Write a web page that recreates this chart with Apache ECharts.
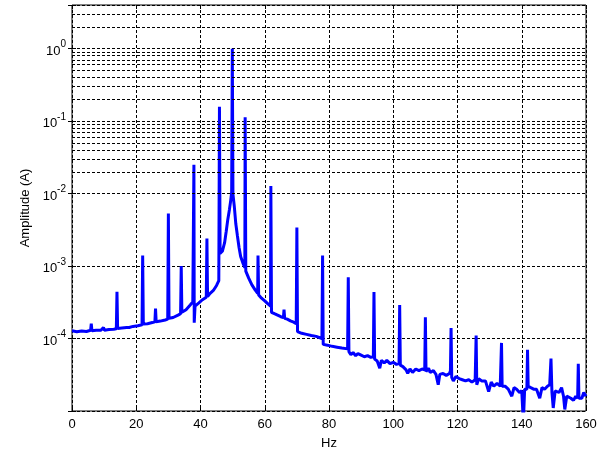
<!DOCTYPE html>
<html lang="en">
<head>
    <meta charset="UTF-8">
    <title>Amplitude spectrum</title>
    <script src="https://cdn.jsdelivr.net/npm/echarts@6/dist/echarts.min.js"></script>
    <style>
        html, body { margin: 0; padding: 0; background: #fff; }
        #main { width: 606px; height: 455px; }
    </style>
</head>
<body>
<div id="main"></div>
<script>
    // frequency (Hz) and amplitude (A)
    var hz = [
        0, 1.5, 3, 4.5, 5.8, 6.0, 6.2, 7.5, 9.0, 9.8, 10.1, 11.5, 13.0, 13.8, 14.0, 14.2,
        15.5, 17.0, 17.5, 17.8, 19.0, 20.5, 21.8, 22.0, 22.2, 23.5, 25.0, 25.8, 26.0, 26.2,
        27.5, 29.0, 29.8, 30.0, 30.2, 31.5, 33.0, 33.8, 34.0, 34.2, 35.5, 36.8, 37.6, 37.8,
        37.95, 38.05, 38.3, 39.5, 40.5, 41.8, 42.0, 42.2, 43.0, 44.0, 45.0, 45.7, 45.9, 46.1,
        46.8, 47.5, 48.0, 48.5, 49.0, 49.4, 49.7, 49.9, 50.1, 50.5, 51.0, 51.5, 52.0, 52.5,
        53.2, 53.8, 53.9, 54.1, 55.0, 56.0, 57.0, 57.8, 57.9, 58.1, 59.0, 60.0, 61.0, 61.8,
        61.9, 62.1, 63.0, 64.0, 65.0, 65.8, 66.0, 66.2, 67.0, 68.0, 69.0, 69.8, 70.0, 70.2,
        71.5, 73.0, 74.5, 76.0, 77.8, 78.0, 78.2, 79.5, 81.0, 82.5, 84.0, 85.8, 86.0, 86.2,
        86.8, 87.5, 88.3, 89.0, 90.0, 91.0, 92.0, 93.0, 93.8, 94.0, 94.2, 95.0, 95.8, 96.3,
        97.2, 98.0, 99.0, 100.0, 101.0, 101.8, 102.0, 102.2, 103.0, 104.0, 104.5, 105.2, 106.0,
        107.0, 108.0, 109.0, 109.8, 110.0, 110.2, 111.0, 111.5, 112.5, 113.3, 114.0, 114.5,
        115.5, 116.5, 117.5, 117.8, 118.0, 118.2, 118.7, 119.5, 120.5, 121.5, 122.5, 123.5,
        124.5, 125.5, 125.8, 126.0, 126.6, 127.5, 128.7, 129.7, 130.5, 131.3, 132.3, 133.3,
        133.7, 133.9, 134.8, 135.8, 136.9, 137.6, 138.4, 139.3, 140.0, 140.5, 140.9, 141.6,
        141.8, 142.0, 142.8, 143.7, 144.6, 145.6, 146.3, 147.1, 148.0, 148.7, 149.1, 149.4,
        149.8, 150.4, 150.8, 151.6, 152.4, 153.0, 153.4, 154.0, 154.5, 155.3, 156.1, 156.8,
        157.4, 157.6, 157.8, 158.7, 159.3, 159.7, 160.0
    ];
    var amp = [
        1.28e-4, 1.24e-4, 1.27e-4, 1.25e-4, 1.3e-4, 1.6e-4, 1.28e-4, 1.3e-4, 1.3e-4, 1.42e-4, 1.3e-4, 1.33e-4, 1.34e-4, 1.36e-4, 4.4e-4, 1.38e-4,
        1.4e-4, 1.42e-4, 1.5e-4, 1.42e-4, 1.47e-4, 1.5e-4, 1.55e-4, 1.4e-3, 1.58e-4, 1.6e-4, 1.66e-4, 1.7e-4, 2.6e-4, 1.7e-4,
        1.74e-4, 1.8e-4, 1.85e-4, 5.3e-3, 1.9e-4, 1.95e-4, 2.1e-4, 2.2e-4, 1.0e-3, 2.3e-4, 2.5e-4, 2.9e-4, 3.2e-4, 3.2e-4,
        0.025, 1.65e-4, 2.8e-4, 3.1e-4, 3.4e-4, 3.7e-4, 2.4e-3, 3.8e-4, 4.2e-4, 4.6e-4, 5.4e-4, 6.3e-4, 0.158, 1.5e-3,
        1.6e-3, 2.1e-3, 3.0e-3, 4.4e-3, 6.0e-3, 8.0e-3, 0.0105, 1.0, 0.0098, 6.8e-3, 3.8e-3, 2.6e-3, 1.8e-3, 1.35e-3,
        1.1e-3, 9.5e-4, 0.113, 8.5e-4, 6.8e-4, 5.5e-4, 4.7e-4, 4.2e-4, 1.4e-3, 4.0e-4, 3.6e-4, 3.3e-4, 3.0e-4, 2.8e-4,
        0.0127, 2.3e-4, 2.2e-4, 2.1e-4, 2.0e-4, 1.95e-4, 2.5e-4, 1.9e-4, 1.85e-4, 1.75e-4, 1.68e-4, 1.6e-4, 3.4e-3, 1.25e-4,
        1.18e-4, 1.14e-4, 1.1e-4, 1.07e-4, 1.0e-4, 1.4e-3, 8.3e-5, 8.1e-5, 7.8e-5, 7.6e-5, 7.4e-5, 7.2e-5, 7.0e-4, 6.6e-5,
        6.0e-5, 6.4e-5, 5.8e-5, 6.2e-5, 5.9e-5, 5.6e-5, 5.8e-5, 5.5e-5, 5.6e-5, 4.4e-4, 5.2e-5, 4.9e-5, 3.9e-5, 5.0e-5,
        4.6e-5, 5.0e-5, 4.5e-5, 4.7e-5, 4.4e-5, 4.5e-5, 2.9e-4, 4.3e-5, 4.1e-5, 3.7e-5, 3.3e-5, 3.8e-5, 3.4e-5,
        3.8e-5, 3.6e-5, 3.8e-5, 3.7e-5, 1.97e-4, 3.5e-5, 3.9e-5, 3.4e-5, 3.6e-5, 3.2e-5, 2.3e-5, 3.2e-5,
        3.3e-5, 3.1e-5, 3.3e-5, 3.6e-5, 1.4e-4, 2.9e-5, 2.6e-5, 3.0e-5, 2.8e-5, 2.7e-5, 2.6e-5, 2.7e-5,
        2.5e-5, 2.7e-5, 1.1e-4, 2.3e-5, 2.8e-5, 2.6e-5, 2.6e-5, 1.85e-5, 2.5e-5, 2.2e-5, 2.4e-5, 2.2e-5,
        8.7e-5, 2.2e-5, 2.2e-5, 2.0e-5, 1.6e-5, 2.1e-5, 2.0e-5, 1.8e-5, 1.9e-5, 7e-6, 2.0e-5, 2.0e-5,
        7.0e-5, 2.2e-5, 2.1e-5, 2.0e-5, 2.0e-5, 1.5e-5, 2.1e-5, 2.0e-5, 2.2e-5, 2.3e-5, 5.3e-5, 1.8e-5,
        1.1e-5, 1.9e-5, 2.0e-5, 1.8e-5, 2.1e-5, 1.6e-5, 1.05e-5, 1.6e-5, 1.7e-5, 1.5e-5, 1.4e-5, 1.6e-5,
        1.5e-5, 4.5e-5, 1.5e-5, 1.5e-5, 1.8e-5, 1.7e-5, 1.6e-5
    ];

    var xTicks = [0, 20, 40, 60, 80, 100, 120, 140, 160];
    var decades = [-5, -4, -3, -2, -1, 0];
    var minorMantissa = [2, 3, 4, 5, 6, 7, 8, 9];
    var yMin = 1e-5, yMax = 4;

    var spectrum = hz.map(function (f, i) { return [f, amp[i]]; });

    // MATLAB style minor grid (2..9 x 10^n)
    var minorLines = [];
    decades.forEach(function (d) {
        minorMantissa.forEach(function (m) {
            var v = m * Math.pow(10, d);
            if (v < yMax) minorLines.push({yAxis: v});
        });
    });

    var gridDash = {color: '#000', width: 1, type: [3, 2]};

    function powLabel(v) {
        var e = Math.log(v) / Math.LN10;
        var r = Math.round(e);
        if (Math.abs(e - r) > 1e-6 || r < -4) return '';
        return '{b|10}{e|' + r + '}';
    }

    var myChart = echarts.init(document.getElementById('main'));
    var option = {
        animation: false,
        textStyle: {fontFamily: 'Liberation Sans, Arial, sans-serif'},
        grid: {left: 72, right: 20, top: 5, bottom: 44, show: true, borderColor: '#000', borderWidth: 1},
        xAxis: [{
            type: 'value', min: xTicks[0], max: xTicks[xTicks.length - 1], interval: 20,
            name: 'Hz', nameLocation: 'middle', nameGap: 26,
            nameTextStyle: {color: '#000', fontSize: 13},
            axisLine: {show: false},
            axisTick: {inside: true, length: 4, lineStyle: {color: '#000'}},
            axisLabel: {color: '#000', fontSize: 13, margin: 7},
            splitLine: {lineStyle: gridDash}
        }, {
            type: 'value', position: 'top', min: xTicks[0], max: xTicks[xTicks.length - 1], interval: 20,
            axisLine: {show: false},
            axisTick: {inside: true, length: 4, lineStyle: {color: '#000'}},
            axisLabel: {show: false},
            splitLine: {show: false}
        }],
        yAxis: [{
            type: 'log', logBase: 10, min: yMin, max: yMax,
            name: 'Amplitude (A)', nameLocation: 'middle', nameGap: 40,
            nameTextStyle: {color: '#000', fontSize: 13},
            axisLine: {show: false},
            axisTick: {inside: true, length: 4, lineStyle: {color: '#000'}},
            axisLabel: {
                margin: 6, formatter: powLabel,
                rich: {
                    b: {fontSize: 13, color: '#000', verticalAlign: 'bottom'},
                    e: {fontSize: 10, color: '#000', verticalAlign: 'bottom', padding: [0, 0, 8, 0]}
                }
            },
            splitLine: {lineStyle: gridDash}
        }, {
            type: 'log', logBase: 10, min: yMin, max: yMax, position: 'right',
            axisLine: {show: false},
            axisTick: {inside: true, length: 4, lineStyle: {color: '#000'}},
            axisLabel: {show: false},
            splitLine: {show: false}
        }],
        series: [
            {
                type: 'line', data: [], z: 1, silent: true,
                markLine: {
                    silent: true, symbol: 'none', animation: false,
                    label: {show: false},
                    lineStyle: gridDash,
                    data: minorLines
                }
            },
            {
                name: 'spectrum', type: 'line', data: spectrum, z: 3,
                showSymbol: false, symbol: 'none',
                lineStyle: {color: '#0000ff', width: 3},
                itemStyle: {color: '#0000ff'}
            }
        ]
    };
    myChart.setOption(option);
</script>
</body>
</html>
